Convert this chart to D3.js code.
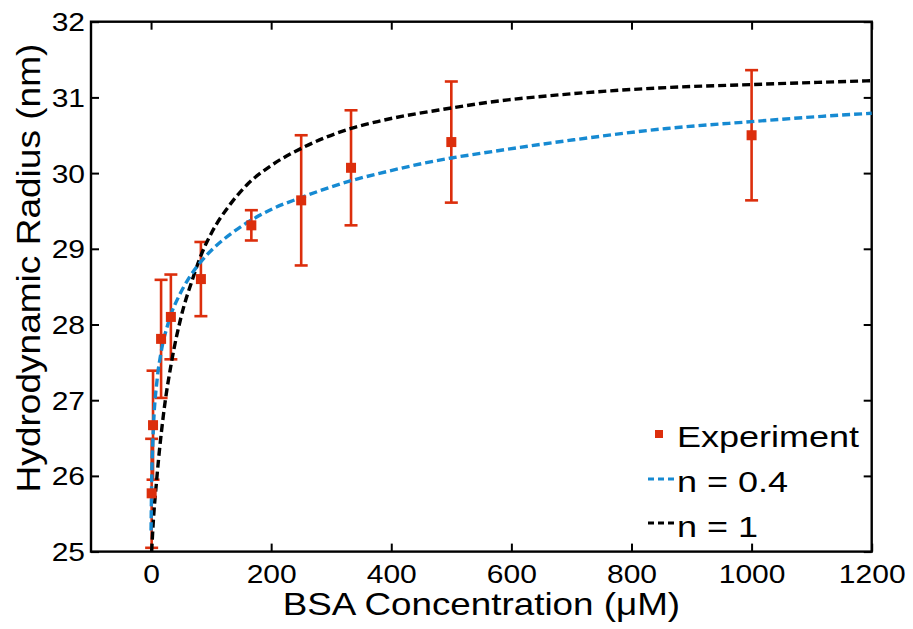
<!DOCTYPE html>
<html>
<head>
<meta charset="utf-8">
<script src="https://cdn.jsdelivr.net/npm/d3@7"></script>
<style>
  body { margin: 0; background: #fff; }
  text { font-family: "Liberation Sans", Arial, Helvetica, sans-serif; fill: #000; }
</style>
</head>
<body>
<div id="chart"></div>
<script>
// experiment: BSA concentration (uM) vs hydrodynamic radius (nm)
var concentration = [1, 3.3, 16.7, 33, 83, 167, 250, 333, 500, 1000];
var radius = [25.77, 26.67, 27.81, 28.10, 28.60, 29.31, 29.64, 30.07, 30.41, 30.50];
var radiusErr = [0.72, 0.72, 0.78, 0.56, 0.49, 0.20, 0.86, 0.76, 0.80, 0.86];

// fit curves
var fitC04 = [0, 1, 3, 10.5, 16, 29, 48, 62, 82, 107, 135, 165, 200, 251, 333, 382, 500, 548, 704, 859, 1000, 1117, 1200];
var fitR04 = [25.28, 25.9, 26.45, 27.3, 27.6, 28.03, 28.40, 28.60, 28.82, 29.03, 29.21, 29.37, 29.52, 29.68, 29.90, 30.00, 30.20, 30.26, 30.44, 30.59, 30.68, 30.75, 30.79];
var fitC1 = [1, 3, 9.5, 20.5, 34, 50, 70, 84, 100, 132, 159, 200, 251, 333, 382, 500, 548, 704, 859, 1000, 1117, 1200];
var fitR1 = [25.0, 25.3, 25.96, 26.8, 27.5, 28.1, 28.62, 28.93, 29.2, 29.59, 29.84, 30.1, 30.33, 30.59, 30.69, 30.86, 30.92, 31.05, 31.13, 31.17, 31.20, 31.22];

var xTicks = [0, 200, 400, 600, 800, 1000, 1200];
var yTicks = [25, 26, 27, 28, 29, 30, 31, 32];
var legendLabels = ["Experiment", "n = 0.4", "n = 1"];

var W = 913, H = 629;
var red = "#dc2e0c", blue = "#168ad2";

var svg = d3.select("#chart").append("svg")
    .attr("width", W)
    .attr("height", H);

var x = d3.scaleLinear().domain([-100, 1200]).range([91, 871.7]);
var y = d3.scaleLinear().domain([25, 32]).range([551.6, 21.7]);

// axes, ticks pointing inward on all four sides
var sx = 1.2;
var fmt = d3.format("d");
svg.append("g")
    .attr("transform", "translate(0," + y(25) + ")")
    .call(d3.axisBottom(x).tickValues(xTicks).tickFormat(fmt).tickSize(-8).tickSizeOuter(0))
    .call(function(g) {
      g.select(".domain").remove();
      g.selectAll("line").attr("stroke-width", 2);
      g.selectAll("text")
        .attr("y", 31.5).attr("dy", null)
        .attr("font-size", 25)
        .attr("transform", "scale(" + sx + ",1)");
    });
svg.append("g")
    .attr("transform", "translate(0," + y(32) + ")")
    .call(d3.axisTop(x).tickValues(xTicks).tickSize(-8).tickFormat(""))
    .call(function(g) {
      g.select(".domain").remove();
      g.selectAll("line").attr("stroke-width", 2);
    });
svg.append("g")
    .attr("transform", "translate(" + x(-100) + ",0)")
    .call(d3.axisLeft(y).tickValues(yTicks).tickFormat(fmt).tickSize(-8).tickSizeOuter(0))
    .call(function(g) {
      g.select(".domain").remove();
      g.selectAll("line").attr("stroke-width", 2);
      g.selectAll("text")
        .attr("x", -5).attr("dy", "0.36em")
        .attr("font-size", 25)
        .attr("transform", "scale(" + sx + ",1)");
    });
svg.append("g")
    .attr("transform", "translate(" + x(1200) + ",0)")
    .call(d3.axisRight(y).tickValues(yTicks).tickSize(-8).tickFormat(""))
    .call(function(g) {
      g.select(".domain").remove();
      g.selectAll("line").attr("stroke-width", 2);
    });

// box
svg.append("rect")
    .attr("x", x(-100))
    .attr("y", y(32))
    .attr("width", x(1200) - x(-100))
    .attr("height", y(25) - y(32))
    .attr("fill", "none")
    .attr("stroke", "#000")
    .attr("stroke-width", 2.4);

// error bars
var pts = concentration.map(function(c, i) { return {c: c, r: radius[i], e: radiusErr[i]}; });
var eb = svg.append("g").attr("stroke", red).attr("stroke-width", 2.6);
eb.selectAll(".v").data(pts).enter().append("line")
    .attr("x1", function(d) { return x(d.c); })
    .attr("x2", function(d) { return x(d.c); })
    .attr("y1", function(d) { return y(d.r - d.e); })
    .attr("y2", function(d) { return y(d.r + d.e); });
[-1, 1].forEach(function(s) {
  eb.selectAll(".cap" + s).data(pts).enter().append("line")
      .attr("x1", function(d) { return x(d.c) - 6.5; })
      .attr("x2", function(d) { return x(d.c) + 6.5; })
      .attr("y1", function(d) { return y(d.r + s * d.e); })
      .attr("y2", function(d) { return y(d.r + s * d.e); });
});

// fit curves
var line = d3.line()
    .x(function(d) { return x(d[0]); })
    .y(function(d) { return y(d[1]); })
    .curve(d3.curveMonotoneX);

svg.append("path")
    .datum(fitC1.map(function(c, i) { return [c, fitR1[i]]; }))
    .attr("d", line)
    .attr("fill", "none")
    .attr("stroke", "#000")
    .attr("stroke-width", 3.4)
    .attr("stroke-dasharray", "8,4");

svg.append("path")
    .datum(fitC04.map(function(c, i) { return [c, fitR04[i]]; }))
    .attr("d", line)
    .attr("fill", "none")
    .attr("stroke", blue)
    .attr("stroke-width", 3.4)
    .attr("stroke-dasharray", "8,4");

// markers
svg.append("g").selectAll("rect").data(pts).enter().append("rect")
    .attr("x", function(d) { return x(d.c) - 5; })
    .attr("y", function(d) { return y(d.r) - 5; })
    .attr("width", 10)
    .attr("height", 10)
    .attr("fill", red);

// legend
var leg = svg.append("g");
leg.append("rect").attr("x", 655).attr("y", 430).attr("width", 8).attr("height", 8).attr("fill", red);
leg.append("line").attr("x1", 648).attr("x2", 674).attr("y1", 479).attr("y2", 479)
    .attr("stroke", blue).attr("stroke-width", 3).attr("stroke-dasharray", "6,4");
leg.append("line").attr("x1", 648).attr("x2", 674).attr("y1", 523).attr("y2", 523)
    .attr("stroke", "#000").attr("stroke-width", 3).attr("stroke-dasharray", "6,4");
leg.selectAll("text").data(legendLabels).enter().append("text")
    .attr("transform", function(d, i) { return "translate(677," + (447 + i * 45) + ") scale(1.2,1)"; })
    .attr("font-size", 30)
    .text(function(d) { return d; });

// axis labels
svg.append("text")
    .attr("transform", "translate(" + ((x(-100) + x(1200)) / 2) + ",615) scale(1.15,1)")
    .attr("text-anchor", "middle")
    .attr("font-size", 32)
    .text("BSA Concentration (\u03BCM)");

svg.append("text")
    .attr("transform", "translate(40,268) rotate(-90) scale(1.09,1)")
    .attr("text-anchor", "middle")
    .attr("font-size", 34)
    .text("Hydrodynamic Radius (nm)");
</script>
</body>
</html>
